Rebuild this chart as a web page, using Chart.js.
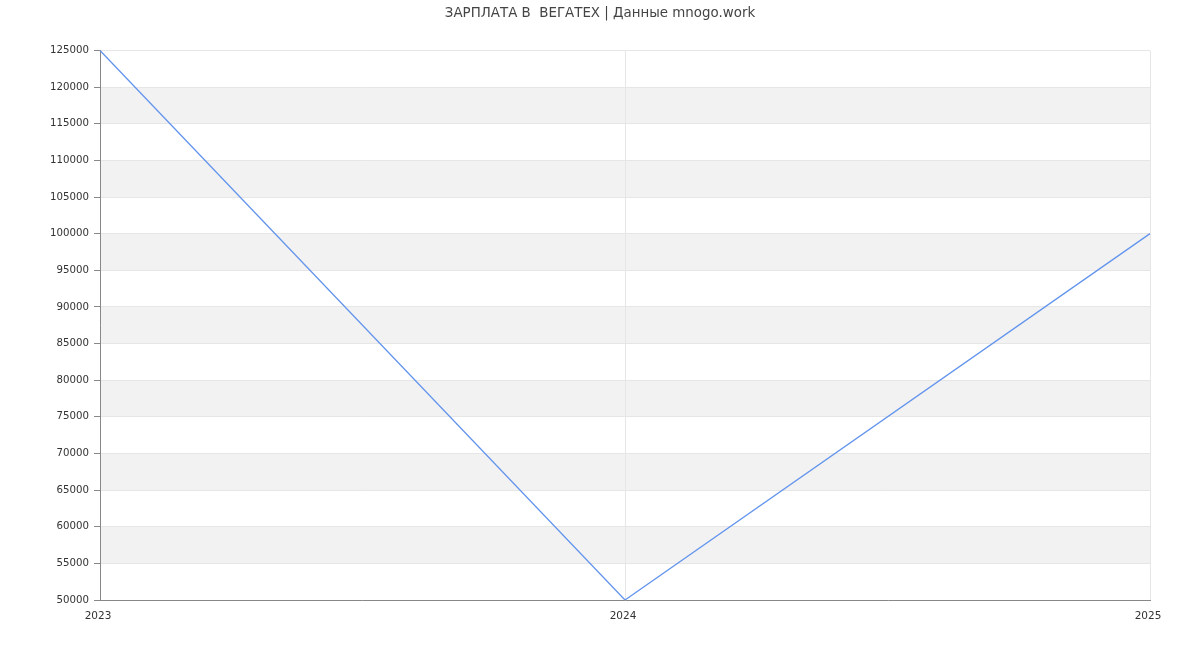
<!DOCTYPE html>
<html>
<head>
<meta charset="utf-8">
<script src="https://cdn.jsdelivr.net/npm/chart.js@4"></script>
<style>
  html, body { margin: 0; padding: 0; background: #fff; }
  #chart { display: block; }
</style>
</head>
<body>
<canvas id="chart" width="1200" height="650"></canvas>
<script>
// данные графика
const years = ['2023', '2024', '2025'];
const salary = [125000, 50000, 100000];
const yMin = 50000;
const yMax = 125000;
const yStep = 5000;
const chartTitle = 'ЗАРПЛАТА В  ВЕГАТЕХ | Данные mnogo.work';

// фон и серые полосы между делениями
const bandsPlugin = {
    id: 'bands',
    beforeDraw(chart) {
        const ctx = chart.ctx;
        const area = chart.chartArea;
        const y = chart.scales.y;
        ctx.save();
        ctx.fillStyle = '#ffffff';
        ctx.fillRect(0, 0, chart.width, chart.height);
        ctx.fillStyle = '#f2f2f2';
        for (let v = yMax - yStep; v > yMin; v -= 2 * yStep) {
            const top = y.getPixelForValue(v);
            const bottom = y.getPixelForValue(v - yStep);
            ctx.fillRect(area.left, top, area.right - area.left, bottom - top);
        }
        ctx.restore();
    }
};

const ctx = document.getElementById('chart').getContext('2d');
new Chart(ctx, {
    type: 'line',
    data: {
        labels: years,
        datasets: [{
            data: salary,
            borderColor: '#6495ed',
            borderWidth: 1.3,
            pointRadius: 0,
            tension: 0,
            fill: false
        }]
    },
    options: {
        responsive: false,
        animation: false,
        layout: { padding: 0 },
        plugins: {
            legend: { display: false },
            tooltip: { enabled: false },
            title: {
                display: true,
                text: chartTitle,
                color: '#444',
                font: { family: 'DejaVu Sans', size: 13.4, weight: 'normal' },
                padding: { top: 5, bottom: 29.4 }
            }
        },
        scales: {
            x: {
                offset: false,
                afterFit(scale) { scale.height = 50; },
                grid: { color: '#e6e6e6', drawTicks: false },
                border: { color: '#888', width: 1 },
                ticks: {
                    color: '#333',
                    padding: 10,
                    labelOffset: -2,
                    maxRotation: 0,
                    font: { family: 'DejaVu Sans', size: 10.5 }
                }
            },
            y: {
                min: yMin,
                max: yMax,
                afterFit(scale) { scale.width = 100; },
                grid: { color: '#e6e6e6', tickColor: '#888', tickLength: 6 },
                border: { color: '#888', width: 1 },
                ticks: {
                    stepSize: yStep,
                    color: '#333',
                    padding: 5,
                    font: { family: 'DejaVu Sans', size: 10.2 },
                    callback: v => String(v)
                }
            },
            // пустая правая ось, чтобы отступ справа был 50px, а заголовок по центру
            yRight: {
                position: 'right',
                min: yMin,
                max: yMax,
                afterFit(scale) { scale.width = 50; },
                grid: { display: false },
                border: { display: false },
                ticks: { display: false }
            }
        }
    },
    plugins: [bandsPlugin]
});
</script>
</body>
</html>
